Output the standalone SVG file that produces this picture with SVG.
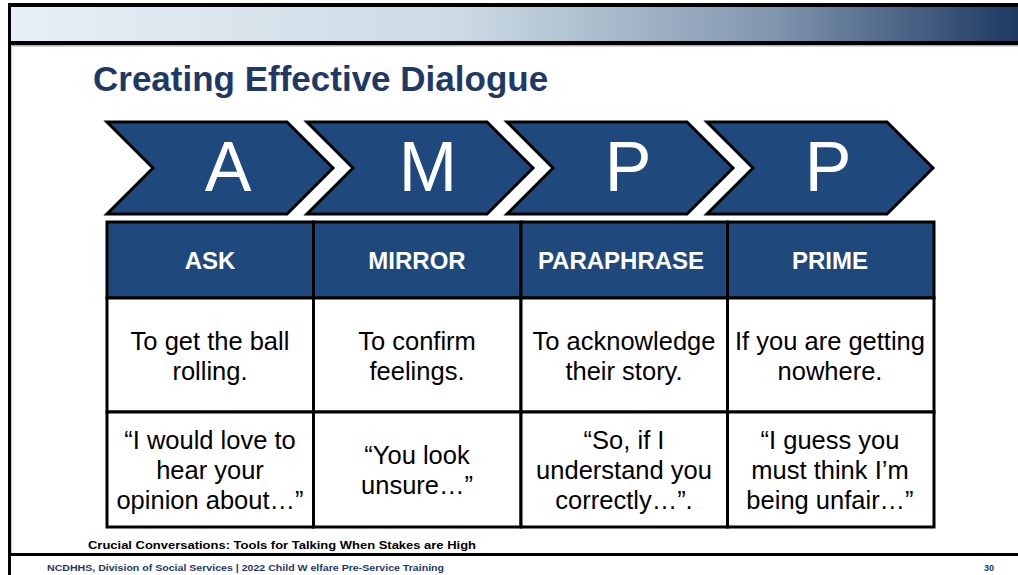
<svg xmlns="http://www.w3.org/2000/svg" width="1018" height="575" viewBox="0 0 1018 575">
  <defs>
    <linearGradient id="band" x1="0" y1="0" x2="1" y2="0">
      <stop offset="0" stop-color="#E8EFF6"/>
      <stop offset="0.45" stop-color="#CBDAE4"/>
      <stop offset="0.75" stop-color="#8398B0"/>
      <stop offset="1" stop-color="#1E3A63"/>
    </linearGradient>
  </defs>
  <style>
    .chev { fill: #1F497D; stroke: #000; stroke-width: 3; stroke-linejoin: miter; }
    .letter { font-family: "Liberation Sans", Arial, sans-serif; font-size: 70px; fill: #fff; text-anchor: middle; }
    .hdr { fill: #1F497D; stroke: #000; stroke-width: 3; }
    .cell { fill: #fff; stroke: #000; stroke-width: 3; }
    .htxt { font-family: "Liberation Sans", Arial, sans-serif; font-size: 24px; font-weight: bold; fill: #fff; text-anchor: middle; }
    .ctxt { font-family: "Liberation Sans", Arial, sans-serif; font-size: 25.5px; fill: #000; text-anchor: middle; }
    .title { font-family: "Liberation Sans", Arial, sans-serif; font-size: 35px; font-weight: bold; fill: #1F3864; }
    .cite { font-family: "Liberation Sans", Arial, sans-serif; font-size: 11.5px; font-weight: bold; fill: #000; }
    .foot { font-family: "Liberation Sans", Arial, sans-serif; font-size: 9px; font-weight: bold; fill: #1F3864; }
  </style>
  <rect width="1018" height="575" fill="#fff"/>
  <!-- slide frame -->
  <g id="frame">
    <rect x="10" y="7" width="1008" height="35" fill="url(#band)"/>
    <rect x="8" y="3" width="1010" height="4" fill="#000"/>
    <rect x="8" y="41" width="1010" height="4" fill="#000"/>
    <rect x="11" y="45" width="1007" height="1.5" fill="#B0B0B0"/>
    <rect x="8" y="3" width="3" height="572" fill="#000"/>
    <rect x="11" y="45" width="1.2" height="508" fill="#C8C8C8"/>
    <rect x="8" y="553" width="1010" height="3" fill="#000"/>
  </g>
  <g id="title">
    <text class="title" x="93" y="91">Creating Effective Dialogue</text>
  </g>
  <!-- chevrons -->
  <g id="chevron-A">
    <polygon class="chev" points="107,122 287,122 333,168 287,214 107,214 153,168"/>
    <text class="letter" x="228" y="191">A</text>
  </g>
  <g id="chevron-M">
    <polygon class="chev" points="307,122 487,122 533,168 487,214 307,214 353,168"/>
    <text class="letter" x="428" y="191">M</text>
  </g>
  <g id="chevron-P1">
    <polygon class="chev" points="507,122 687,122 733,168 687,214 507,214 553,168"/>
    <text class="letter" x="628" y="191">P</text>
  </g>
  <g id="chevron-P2">
    <polygon class="chev" points="707,122 887,122 933,168 887,214 707,214 753,168"/>
    <text class="letter" x="828" y="191">P</text>
  </g>
  <!-- table -->
  <g id="col-ask">
    <rect class="hdr" x="107" y="222" width="206.5" height="76"/>
    <text class="htxt" x="210" y="269">ASK</text>
    <rect class="cell" x="107" y="298" width="206.5" height="114"/>
    <text class="ctxt" x="210" y="350">To get the ball</text>
    <text class="ctxt" x="210" y="380">rolling.</text>
    <rect class="cell" x="107" y="412" width="206.5" height="115"/>
    <text class="ctxt" x="210" y="449">“I would love to</text>
    <text class="ctxt" x="210" y="479">hear your</text>
    <text class="ctxt" x="210" y="509">opinion about…”</text>
  </g>
  <g id="col-mirror">
    <rect class="hdr" x="313.5" y="222" width="207.5" height="76"/>
    <text class="htxt" x="417" y="269">MIRROR</text>
    <rect class="cell" x="313.5" y="298" width="207.5" height="114"/>
    <text class="ctxt" x="417" y="350">To confirm</text>
    <text class="ctxt" x="417" y="380">feelings.</text>
    <rect class="cell" x="313.5" y="412" width="207.5" height="115"/>
    <text class="ctxt" x="417" y="464">“You look</text>
    <text class="ctxt" x="417" y="494">unsure…”</text>
  </g>
  <g id="col-paraphrase">
    <rect class="hdr" x="521" y="222" width="206.5" height="76"/>
    <text class="htxt" x="621" y="269">PARAPHRASE</text>
    <rect class="cell" x="521" y="298" width="206.5" height="114"/>
    <text class="ctxt" x="624" y="350">To acknowledge</text>
    <text class="ctxt" x="624" y="380">their story.</text>
    <rect class="cell" x="521" y="412" width="206.5" height="115"/>
    <text class="ctxt" x="624" y="449">“So, if I</text>
    <text class="ctxt" x="624" y="479">understand you</text>
    <text class="ctxt" x="624" y="509">correctly…”.</text>
  </g>
  <g id="col-prime">
    <rect class="hdr" x="727.5" y="222" width="206.5" height="76"/>
    <text class="htxt" x="830" y="269">PRIME</text>
    <rect class="cell" x="727.5" y="298" width="206.5" height="114"/>
    <text class="ctxt" x="830" y="350">If you are getting</text>
    <text class="ctxt" x="830" y="380">nowhere.</text>
    <rect class="cell" x="727.5" y="412" width="206.5" height="115"/>
    <text class="ctxt" x="830" y="449">“I guess you</text>
    <text class="ctxt" x="830" y="479">must think I’m</text>
    <text class="ctxt" x="830" y="509">being unfair…”</text>
  </g>
  <g id="connectors"/>
  <g id="footer">
    <text class="cite" x="88" y="549" textLength="388" lengthAdjust="spacingAndGlyphs">Crucial Conversations: Tools for Talking When Stakes are High</text>
    <text class="foot" x="47" y="571" textLength="397" lengthAdjust="spacingAndGlyphs">NCDHHS, Division of Social Services | 2022 Child W elfare Pre-Service Training</text>
    <text class="foot" x="984" y="571">30</text>
  </g>
</svg>
